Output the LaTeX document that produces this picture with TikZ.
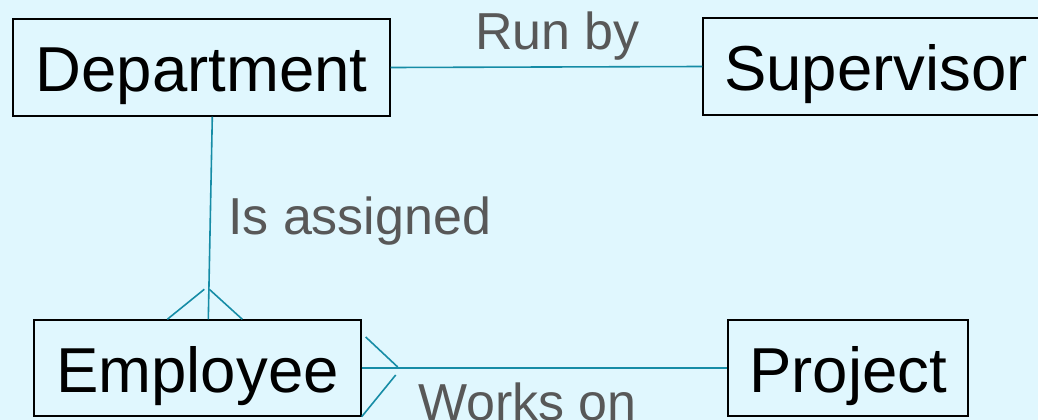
\documentclass[tikz,border=0pt]{standalone}
\usepackage{fontspec}
\setmainfont{Liberation Sans}
\usetikzlibrary{calc}
\definecolor{bgcyan}{RGB}{224,247,254}
\definecolor{linkteal}{RGB}{22,140,166}
\definecolor{labelgrey}{RGB}{88,88,88}
\tikzset{
  entity/.style={draw=black, line width=1.4pt, fill=bgcyan, inner xsep=0pt, inner ysep=0pt,
    text height=72pt, text depth=24pt, anchor=base,
    font=\fontsize{63.5}{63.5}\selectfont},
  relname/.style={inner sep=0pt, anchor=base west, text=labelgrey,
    font=\fontsize{52}{52}\selectfont},
  link/.style={draw=linkteal, line width=1.6pt}
}
\begin{document}
\begin{tikzpicture}[x=1pt,y=-1pt]
  % canvas
  \useasboundingbox (0,0) rectangle (1038,420);
  \fill[bgcyan] (0,0) rectangle (1038,420);

  % entities
  \node[entity, minimum width=377pt, text depth=25pt] (dept) at (201.5,91) {Department};
  \node[entity, minimum width=346pt, text depth=25pt] (sup) at (876,90) {Supervisor};
  \node[entity, minimum width=327pt] (emp) at (197.5,392) {Employee};
  \node[entity, minimum width=240pt] (proj) at (848,392) {Project};

  % relationship: Department run by Supervisor
  \draw[link] (dept.east) -- (sup.west);
  \node[relname] (runby) at (475,50) {Run by};

  % relationship: Employee is assigned to Department (many side at Employee)
  \draw[link] ($(dept.south west)+(200,0)$) -- ($(emp.north west)+(175,0)$);
  \coordinate (assignL) at ($(emp.north west)+(171,-30)$);
  \coordinate (assignR) at ($(emp.north west)+(176,-30)$);
  \draw[link] ($(emp.north west)+(134,0)$) -- (assignL);
  \draw[link] (assignR) -- ($(emp.north west)+(209,0)$);
  \node[relname] (assigned) at (228,234) {Is assigned};

  % relationship: Employee works on Project (many side at Employee)
  \draw[link] (emp.east) -- (proj.west);
  \coordinate (worksU) at ($(emp.east)+(36,-1)$);
  \coordinate (worksD) at ($(emp.east)+(34,7)$);
  \draw[link] ($(emp.east)+(4,-31)$) -- (worksU);
  \draw[link] (worksD) -- (emp.south east);
  \node[relname] (workson) at (418,420) {Works on};
\end{tikzpicture}
\end{document}
